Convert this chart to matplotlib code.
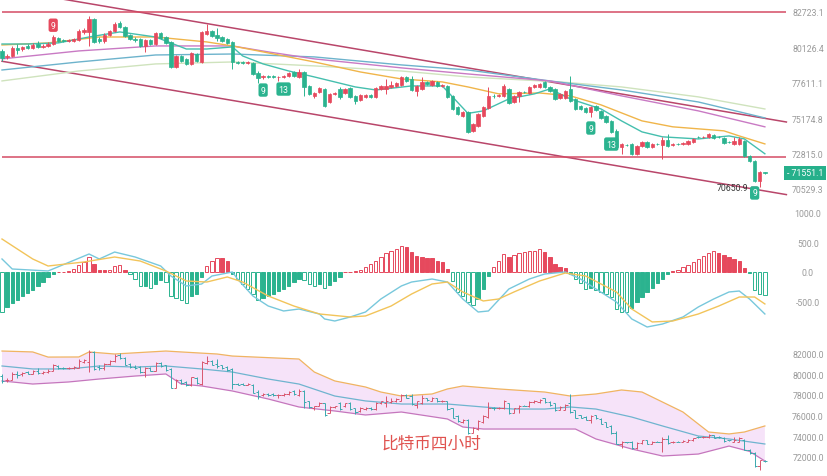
import numpy as np
import matplotlib
matplotlib.use("Agg")
import matplotlib.pyplot as plt
from matplotlib.ticker import NullLocator, NullFormatter
import matplotlib.transforms as mtransforms

plt.rcParams['font.family'] = ['Roboto', 'DejaVu Sans']

# ---- 4h candles (BTC) ----
opens = [79870, 79440, 79510, 80080, 80010, 80230, 80080, 80370, 80160, 80230,
         80370, 80810, 80660, 80590, 80590, 80660, 81250, 81250, 82200, 80740,
         80590, 81030, 81320, 81910, 81610, 81030, 80740, 80740, 80230, 80660,
         80370, 81170, 80880, 80520, 78730, 79510, 79300, 78940, 79650, 79080,
         81100, 81320, 81030, 80880, 80740, 80520, 79080, 79080, 79010, 79010,
         78300, 78020, 78090, 78090, 78020, 78020, 78090, 78370, 78020, 78370,
         77390, 76700, 76970, 77180, 76280, 76840, 77180, 76900, 77250, 76700,
         76420, 76630, 76770, 76630, 77180, 77180, 77320, 77390, 77460, 78020,
         77880, 77040, 77180, 77670, 77460, 77670, 77390, 77390, 76700, 75940,
         75330, 75600, 74320, 74650, 75330, 75870, 76700, 76700, 76700, 77180,
         76280, 76700, 76970, 76900, 77320, 77320, 77670, 77320, 77180, 76560,
         76560, 77180, 76490, 76010, 75870, 75600, 76010, 75670, 75330, 74990,
         74320, 73260, 73390, 73450, 72800, 73320, 73590, 73260, 73450, 73390,
         73720, 73390, 73450, 73450, 73450, 73590, 73920, 73920, 73920, 74050,
         73920, 73850, 73590, 73450, 73450, 73650, 72660, 72340, 71050, 71600]
closes = [79370, 79510, 80080, 79940, 80160, 80080, 80300, 80160, 80230, 80370,
          80880, 80590, 80590, 80660, 80740, 81320, 81390, 82200, 80520, 80590,
          81030, 81320, 81830, 81610, 80950, 80740, 80660, 80230, 80660, 80370,
          81170, 80810, 80450, 78730, 79510, 79150, 78940, 79720, 79150, 81250,
          81320, 80950, 80810, 80590, 80450, 79080, 79010, 79010, 79080, 78230,
          77950, 78090, 78020, 78020, 78030, 78090, 78300, 78090, 78370, 77320,
          76840, 76900, 77250, 76010, 76840, 76900, 76630, 77180, 76630, 76350,
          76770, 76770, 76630, 77250, 77390, 77390, 77460, 77600, 78020, 77740,
          77110, 77390, 77670, 77530, 77740, 77390, 77460, 76630, 75800, 75460,
          75600, 74250, 74790, 75460, 75940, 76700, 76690, 76770, 77390, 76220,
          76700, 76970, 76960, 77320, 77460, 77530, 77320, 77040, 76490, 76840,
          77040, 76350, 75800, 75800, 75600, 75940, 75740, 75190, 74920, 74250,
          73260, 73450, 73380, 72800, 73320, 73590, 73260, 73450, 73440, 73720,
          73320, 73450, 73440, 73520, 73650, 73780, 73910, 73930, 74120, 73850,
          73910, 73520, 73580, 73650, 73780, 72660, 72340, 71050, 71630, 71551.1]
highs = [80010, 79650, 80230, 80370, 80230, 80370, 80450, 80590, 80370, 80520,
         81030, 80880, 80740, 80740, 80810, 81470, 81540, 82430, 82280, 80880,
         81170, 81390, 81980, 82050, 81690, 81100, 80880, 80810, 80740, 80740,
         81250, 81250, 80950, 80590, 79580, 79580, 79370, 79800, 79720, 81320,
         81830, 81390, 81540, 80950, 80810, 80590, 79150, 79150, 79150, 79080,
         78440, 78160, 78160, 78160, 78090, 78160, 78370, 78440, 78580, 78440,
         77460, 76970, 77320, 77250, 76900, 76970, 77320, 77250, 77320, 76770,
         76840, 76840, 76840, 77320, 77460, 77880, 77740, 77670, 78090, 78090,
         78090, 77460, 78020, 77740, 77810, 77740, 77530, 77460, 76770, 76010,
         75670, 75670, 74860, 75530, 76010, 77320, 76840, 76840, 77530, 77250,
         76770, 77040, 77040, 77390, 77530, 77600, 77740, 77390, 77250, 76900,
         77110, 78090, 76560, 76080, 75940, 76010, 76080, 75740, 75400, 75060,
         74450, 73520, 73450, 73520, 73390, 73650, 73650, 73520, 73520, 73920,
         74120, 73520, 73520, 73590, 73720, 73850, 73980, 73980, 74180, 74120,
         73980, 73920, 73650, 73920, 73920, 73720, 72730, 72400, 71690, 71630]
lows = [79150, 79300, 79440, 79650, 79870, 80010, 80010, 80080, 80080, 80160,
        80300, 80520, 80520, 80520, 80520, 80590, 81100, 80230, 80450, 80450,
        80450, 80950, 81250, 81540, 80880, 80660, 80520, 80160, 79800, 80300,
        80300, 80740, 80370, 78660, 78660, 79080, 78870, 78870, 79080, 79010,
        81030, 80880, 80590, 80520, 80370, 78580, 78940, 78940, 78940, 78160,
        77600, 77880, 77950, 77950, 77740, 77950, 78020, 78020, 77950, 76700,
        76770, 76560, 76900, 75940, 76220, 76770, 76490, 76840, 76560, 76150,
        76350, 76560, 76560, 76560, 77110, 76840, 77250, 77320, 77390, 77670,
        77040, 76700, 77110, 77460, 77390, 77320, 77320, 76560, 75740, 75400,
        75260, 74180, 74250, 74590, 75260, 75800, 76560, 76630, 76630, 76150,
        76220, 76280, 76900, 76840, 77250, 77250, 77250, 76970, 76420, 76490,
        76490, 76280, 75740, 75740, 75530, 75260, 75670, 75130, 74860, 74180,
        73190, 72800, 73320, 72730, 72730, 73260, 73190, 73190, 73390, 72470,
        73260, 73320, 73390, 73390, 73390, 73520, 73850, 73850, 73850, 73780,
        73850, 73450, 73520, 73390, 73390, 72600, 72270, 70980, 70650.9, 71500]

# moving averages (sparse readings, candle index -> price)
ma_fast_idx = [0, 5, 11, 17, 23, 30, 36, 40, 45, 47, 51, 56, 61, 69, 73, 80, 86, 91, 94,
               99, 104, 107, 111, 117, 121, 125, 129, 136, 142, 145, 149]
ma_fast = [80370, 80370, 80450, 80880, 81250, 80880, 80010, 80010, 80160, 79510, 78940,
           78440, 78020, 77320, 77110, 77390, 77390, 75500, 75670, 76490, 76840, 77180,
           76490, 75800, 74990, 74250, 73920, 73780, 73980, 73780, 72800]
ma_orange_idx = [0, 9, 19, 30, 40, 45, 51, 61, 70, 78, 86, 91, 97, 105, 111, 117, 125,
                 131, 141, 144, 149]
ma_orange = [80300, 80450, 80880, 80880, 80520, 80230, 79800, 79080, 78370, 77880, 77670,
             77320, 76840, 76900, 76700, 76080, 74990, 74590, 74320, 73980, 73450]
ma_pink_idx = [0, 15, 30, 45, 52, 61, 78, 91, 107, 121, 136, 149]
ma_pink = [79300, 79870, 80230, 80230, 79800, 79300, 78660, 78230, 77740, 76700, 75670, 74590]
ma_blue_idx = [0, 15, 30, 45, 61, 78, 91, 107, 121, 136, 149]
ma_blue = [78510, 79080, 79580, 79650, 79440, 78870, 78510, 77740, 77110, 76280, 75190]
ma_beige_idx = [0, 15, 30, 45, 61, 78, 91, 109, 121, 136, 149]
ma_beige = [77740, 78440, 78940, 79080, 78800, 78440, 78020, 77670, 77320, 76630, 75800]

# channel + levels
channel_idx = [0, 153.2]
upper_channel = [84470, 74915]
lower_channel = [79130, 70170]
levels = [82723.1, 72600]
main_ticks = [82723.1, 80126.4, 77611.1, 75174.8, 72815.0, 70529.3]
last_price = 71551.1
low_price = 70650.9

td_idx = [51, 55, 115, 119, 147]
td_text = ['9', '13', '9', '13', '9']

# ---- MACD ----
macd_hist = [-670, -590, -520, -460, -400, -350, -300, -240, -170, -90,
             -40, 5, 8, 10, 50, 110, 170, 250, 130, 40,
             30, 40, 100, 110, 25, -40, -110, -240, -230, -270,
             -200, -140, -170, -400, -440, -470, -510, -400, -370, -90,
             100, 190, 240, 230, 180, -30, -120, -200, -280, -370,
             -470, -440, -400, -360, -320, -280, -230, -170, -110, -140,
             -200, -240, -200, -260, -210, -150, -90, 5, 8, 12,
             40, 80, 130, 190, 250, 310, 350, 390, 440, 420,
             330, 272, 244, 240, 228, 189, 161, 50, -144, -339,
             -394, -506, -550, -450, -283, -72, 78, 189, 300, 255,
             283, 311, 328, 344, 355, 383, 339, 244, 133, 78,
             67, -40, -110, -180, -290, -270, -300, -330, -370, -420,
             -620, -660, -670, -600, -500, -420, -340, -260, -190, -110,
             -40, 10, 40, 80, 120, 170, 220, 270, 310, 345,
             320, 290, 250, 210, 190, 60, -20, -300, -360, -390]
dif_idx = [0, 2, 9, 17, 19, 22, 26, 31, 33, 36, 39, 41, 45, 46, 49, 52, 55, 58, 62, 63,
           65, 68, 71, 74, 78, 80, 84, 87, 90, 93, 95, 99, 103, 106, 110, 113, 116, 120,
           123, 126, 129, 133, 136, 139, 142, 144, 146, 149]
dif = [217, 50, 17, 300, 217, 333, 250, 100, -67, -233, -200, -67, 0, -117, -400, -567,
       -650, -617, -700, -783, -817, -750, -667, -450, -233, -167, -117, -167, -450, -667,
       -650, -283, -117, -33, 0, -117, -283, -500, -783, -917, -867, -750, -583, -450,
       -333, -317, -450, -700]
dea_idx = [0, 3, 6, 9, 16, 22, 27, 32, 36, 40, 44, 47, 52, 57, 62, 68, 71, 76, 80, 84,
           87, 90, 94, 97, 100, 105, 110, 114, 120, 123, 127, 131, 136, 140, 144, 147, 149]
dea = [550, 383, 217, 100, 167, 250, 183, 17, -150, -167, -83, -167, -400, -567, -700,
       -750, -733, -567, -367, -200, -167, -333, -483, -450, -333, -150, -17, -67, -333,
       -617, -833, -817, -700, -567, -417, -417, -533]
macd_ticks = [1000, 500, 0, -500]

# ---- Bollinger ----
boll_up_idx = [0, 6, 9, 15, 17, 22, 32, 35, 42, 45, 58, 61, 65, 71, 74, 78, 84, 87, 90,
               97, 106, 111, 116, 121, 125, 133, 138, 142, 145, 149]
boll_up = [82290, 82200, 81700, 81710, 82200, 82000, 82290, 82200, 82000, 81800, 81510,
           80240, 79370, 78780, 78290, 77900, 78100, 78590, 78880, 78590, 78290, 77900,
           78100, 78490, 78290, 76340, 74390, 74200, 74390, 74980]
boll_mid_idx = [0, 6, 13, 19, 26, 32, 39, 45, 52, 58, 65, 71, 78, 87, 94, 100, 106, 111,
                116, 123, 129, 136, 142, 149]
boll_mid = [80830, 80540, 80540, 80830, 80730, 80830, 80540, 80240, 79560, 79070, 77900,
            77420, 77120, 77120, 76830, 76630, 76630, 76830, 76630, 75850, 74980, 74000,
            73710, 73220]
boll_low_idx = [0, 6, 13, 19, 26, 32, 35, 39, 45, 52, 58, 65, 71, 78, 87, 90, 94, 100,
                106, 112, 116, 123, 129, 136, 142, 146, 149]
boll_low = [79370, 79070, 79270, 79560, 79850, 80050, 79070, 78880, 78390, 77610, 76830,
            76440, 76050, 76340, 75660, 74880, 74680, 74680, 74680, 74680, 73710, 72730,
            72050, 72240, 73020, 72500, 71560]
boll_ticks = [82000, 80000, 78000, 76000, 74000, 72000]

RED = '#e6495d'
GREEN = '#2bb38f'
GREY = '#9a9a9a'

o = np.array(opens); c = np.array(closes); h = np.array(highs); l = np.array(lows)
idx = np.arange(len(c))
up = c >= o
ccol = np.where(up, RED, GREEN)

W, H = 828, 477
fig = plt.figure(figsize=(W / 100, H / 100), dpi=100)
ax1 = fig.add_axes([0, 1 - 200 / H, 1, 200 / H])
ax2 = fig.add_axes([0, 1 - 337 / H, 1, 137 / H])
ax3 = fig.add_axes([0, 0, 1, 137 / H])

xlim = (-2 / 5.12, (W - 2) / 5.12)
for ax in (ax1, ax2, ax3):
    ax.set_xlim(*xlim)
    for s in ax.spines.values():
        s.set_visible(False)
    ax.set_xticks([])
    ax.set_facecolor('none')

# main panel
ax1.set_yscale('log')
ax1.set_ylim(69893, 83697)
ax1.plot(channel_idx, upper_channel, color='#b9466a', lw=1.1)
ax1.plot(channel_idx, lower_channel, color='#b9466a', lw=1.1)
ax1.hlines(levels, channel_idx[0], channel_idx[1], color='#d44c64', lw=1.1)
ax1.plot(ma_beige_idx, ma_beige, color='#cfe3bd', lw=1)
ax1.plot(ma_blue_idx, ma_blue, color='#6db3cc', lw=1)
ax1.plot(ma_pink_idx, ma_pink, color='#c97ac4', lw=1)
ax1.plot(ma_orange_idx, ma_orange, color='#f0b54a', lw=1)
ax1.plot(ma_fast_idx, ma_fast, color='#45bfae', lw=1)
ax1.vlines(idx, l, h, colors=ccol, lw=0.7, zorder=3)
ax1.bar(idx, np.abs(c - o), bottom=np.minimum(o, c), width=0.66, color=ccol,
        edgecolor=ccol, linewidth=0.5, zorder=4)

for i, t in zip(td_idx, td_text):
    ax1.annotate(t, xy=(i, l[i]), xytext=(0, -8), textcoords='offset points',
                 ha='center', va='center', fontsize=6.3, color='white', zorder=6,
                 bbox=dict(boxstyle='round,pad=0.25', fc=GREEN, ec='none'))
ax1.annotate('9', xy=(10, h[10]), xytext=(0, 7), textcoords='offset points',
             ha='center', va='center', fontsize=6.3, color='white', zorder=6,
             bbox=dict(boxstyle='round,pad=0.25', fc=RED, ec='none'))
ax1.annotate(f'{low_price:.1f}', xy=(148, low_price), xytext=(-8, 0),
             textcoords='offset points', ha='right', va='center', fontsize=6.3,
             color='#333333', arrowprops=dict(arrowstyle='-', color='#555555', lw=0.6,
                                              shrinkA=0, shrinkB=2))
trans = mtransforms.blended_transform_factory(ax1.transAxes, ax1.transData)
ax1.text(787 / W, last_price, f'- {last_price:.1f}', transform=trans, ha='left',
         va='center', fontsize=6.3, color='white', zorder=7,
         bbox=dict(boxstyle='square,pad=0.3', fc='#26b08b', ec='none'))
ax1.set_yticks(main_ticks, [f'{v:.1f}' for v in main_ticks])
ax1.yaxis.set_minor_locator(NullLocator())
ax1.yaxis.set_minor_formatter(NullFormatter())

# MACD panel
hist = np.array(macd_hist, dtype=float)
prev = np.concatenate([[0], hist[:-1]])
grow = np.abs(hist) >= np.abs(prev)
hcol = np.where(hist >= 0, RED, GREEN)
face = [('none' if g else col) for g, col in zip(grow, hcol)]
ax2.set_ylim(-1067, 1217)
ax2.bar(idx, hist, width=0.66, color=face, edgecolor=hcol, linewidth=0.7)
ax2.plot(dif_idx, dif, color='#78c8dc', lw=1)
ax2.plot(dea_idx, dea, color='#f2c45a', lw=1)
ax2.set_yticks(macd_ticks, [f'{v:.1f}' for v in macd_ticks])

# Bollinger panel
ax3.set_ylim(70098, 83463)
ax3.fill(np.concatenate([boll_up_idx, boll_low_idx[::-1]]),
         np.concatenate([boll_up, boll_low[::-1]]), color='#f6e3f9', lw=0)
ax3.plot(boll_up_idx, boll_up, color='#f0b462', lw=0.9)
ax3.plot(boll_mid_idx, boll_mid, color='#6fb4cf', lw=0.9)
ax3.plot(boll_low_idx, boll_low, color='#c576bd', lw=0.9)
bcol = np.where(up, '#d9566e', '#3aa9ae')
ax3.vlines(idx, l, h, colors=bcol, lw=0.7)
ax3.hlines(o, idx - 0.45, idx, colors=bcol, lw=0.7)
ax3.hlines(c, idx, idx + 0.45, colors=bcol, lw=0.7)
ax3.set_yticks(boll_ticks, [f'{v:.1f}' for v in boll_ticks])
ax3.text(431 / W, (H - 444) / 137, '比特币四小时', transform=ax3.transAxes,
         ha='center', va='center', fontsize=12, color='#e0524f',
         family=['Noto Sans CJK SC', 'DejaVu Sans'])

for ax in (ax1, ax2, ax3):
    ax.yaxis.tick_right()
    ax.tick_params(axis='y', length=0, pad=-14.4, labelsize=6.3, labelcolor=GREY)
    for t in ax.get_yticklabels():
        t.set_horizontalalignment('center')

fig.savefig('out.png', dpi=100, facecolor='white')
